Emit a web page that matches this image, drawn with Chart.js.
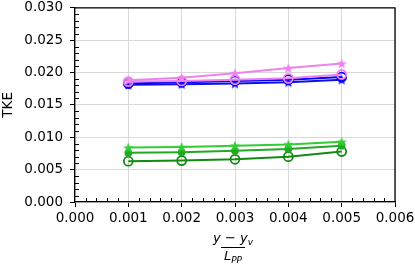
<!DOCTYPE html>
<html>
<head>
<meta charset="utf-8">
<script src="https://cdn.jsdelivr.net/npm/chart.js@4/dist/chart.umd.min.js"></script>
<style>
  html, body { margin: 0; padding: 0; background: #fff; }
  #wrap { position: relative; width: 415px; height: 267px; }
  #xtitle { position: absolute; left: 193px; top: 231px; width: 80px; text-align: center;
            font-family: "DejaVu Sans", sans-serif; font-size: 13px; color: #000; line-height: 14px; }
  #xtitle .num { display: block; padding-bottom: 2px; }
  #xtitle .den { display: inline-block; border-top: 1.2px solid #000; padding: 1px 3px 0 3px; }
  #xtitle sub { font-size: 9px; vertical-align: -3px; line-height: 0; }
  #xtitle i { font-style: italic; }
</style>
</head>
<body>
<div id="wrap">
  <canvas id="c" width="415" height="267"></canvas>
  <div id="xtitle"><span class="num"><i>y</i> − <i>y</i><sub><i>v</i></sub></span><span class="den"><i>L</i><sub><i>PP</i></sub></span></div>
</div>
<script>
// ---- data ----
const xPositions = [0.001, 0.002, 0.003, 0.004, 0.005];
const violetStar   = [0.0188, 0.0192, 0.0199, 0.0207, 0.0214];
const violetCircle = [0.0186, 0.0187, 0.0189, 0.0191, 0.0197];
const blueCircle   = [0.0183, 0.0185, 0.0187, 0.0189, 0.0193];
const blueStar     = [0.0181, 0.0182, 0.0183, 0.0185, 0.0189];
const limeStar     = [0.0084, 0.0085, 0.0087, 0.0089, 0.0093];
const greenDot     = [0.0076, 0.0077, 0.0079, 0.0082, 0.0087];
const greenCircle  = [0.0063, 0.0064, 0.0066, 0.0070, 0.0078];
const xTickValues = [0, 0.001, 0.002, 0.003, 0.004, 0.005, 0.006];
const yTickValues = [0, 0.005, 0.010, 0.015, 0.020, 0.025, 0.030];
const yTitle = 'TKE';

function pts(vals) { return xPositions.map((x, i) => ({ x: x, y: vals[i] })); }

function makeStar(color, size) {
  const c = document.createElement('canvas');
  c.width = size; c.height = size;
  const g = c.getContext('2d');
  const cx = size / 2, cy = size / 2 + 0.5, R = size / 2 - 0.5, r = R * 0.42;
  g.beginPath();
  for (let i = 0; i < 10; i++) {
    const a = -Math.PI / 2 + i * Math.PI / 5;
    const rad = i % 2 === 0 ? R : r;
    const px = cx + rad * Math.cos(a), py = cy + rad * Math.sin(a);
    if (i === 0) g.moveTo(px, py); else g.lineTo(px, py);
  }
  g.closePath();
  g.fillStyle = color; g.fill();
  return c;
}

const VIOLET = '#ee82ee', BLUE = '#0000ff', DBLUE = '#1010e0', LIME = '#32cd32', MGREEN = '#22a822', DGREEN = '#138a13';

function lineDS(label, vals, color, pointStyle, radius, fill) {
  return {
    label: label, data: pts(vals), borderColor: color, borderWidth: 2,
    pointStyle: pointStyle, pointRadius: radius, pointHoverRadius: radius,
    pointBorderColor: color, pointBackgroundColor: fill ? color : 'rgba(0,0,0,0)',
    pointBorderWidth: 1.8, showLine: true, tension: 0
  };
}

const frameAndMinor = {
  id: 'frameAndMinor',
  beforeDatasetsDraw(chart) {
    const ctx = chart.ctx, xs = chart.scales.x, ys = chart.scales.y;
    ctx.save();
    ctx.strokeStyle = '#000'; ctx.lineWidth = 1;
    for (let i = 1; i < 30; i++) {
      if (i % 5 === 0) continue;
      const px = Math.round(xs.getPixelForValue(i * 0.0002)) + 0.5;
      ctx.beginPath(); ctx.moveTo(px, ys.bottom); ctx.lineTo(px, ys.bottom - 4); ctx.stroke();
      const py = Math.round(ys.getPixelForValue(i * 0.001)) + 0.5;
      ctx.beginPath(); ctx.moveTo(xs.left, py); ctx.lineTo(xs.left + 4, py); ctx.stroke();
    }
    ctx.lineWidth = 1.3;
    ctx.beginPath();
    ctx.moveTo(xs.left, ys.top); ctx.lineTo(xs.right, ys.top); ctx.lineTo(xs.right, ys.bottom);
    ctx.stroke();
    ctx.restore();
  }
};

const font = { family: '"DejaVu Sans", sans-serif', size: 13.5 };

new Chart(document.getElementById('c'), {
  type: 'scatter',
  data: {
    datasets: [
      lineDS('violet star', violetStar, VIOLET, makeStar(VIOLET, 12), 6, true),
      lineDS('violet circle', violetCircle, VIOLET, 'circle', 4.5, false),
      lineDS('blue circle', blueCircle, BLUE, 'circle', 4.5, false),
      lineDS('blue star', blueStar, DBLUE, makeStar(DBLUE, 12), 6, true),
      lineDS('lime star', limeStar, LIME, makeStar(LIME, 12), 6, true),
      lineDS('green dot', greenDot, MGREEN, 'circle', 3, true),
      lineDS('green circle', greenCircle, DGREEN, 'circle', 4.5, false)
    ]
  },
  options: {
    responsive: false, animation: false, devicePixelRatio: 1,
    layout: { padding: { top: 6, right: 20, left: 0, bottom: 0 } },
    plugins: { legend: { display: false }, tooltip: { enabled: false } },
    scales: {
      x: {
        type: 'linear', min: 0, max: 0.006,
        afterBuildTicks(s) { s.ticks = xTickValues.map(v => ({ value: v })); },
        afterFit(s) { s.height = 65; s.paddingLeft = 0; s.paddingRight = 0; },
        ticks: { font: font, color: '#000', padding: 3, maxRotation: 0,
                 callback: v => Number(v).toFixed(3) },
        grid: { color: '#d8d8d8', lineWidth: 1, tickLength: 5, tickColor: '#000', drawTicks: true },
        border: { color: '#000', width: 1.3 }
      },
      y: {
        type: 'linear', min: 0, max: 0.030,
        afterBuildTicks(s) { s.ticks = yTickValues.map(v => ({ value: v })); },
        afterFit(s) { s.width = 75; s.paddingTop = 0; s.paddingBottom = 0; },
        title: { display: true, text: yTitle, font: font, color: '#000', padding: { top: 0, bottom: 0 } },
        ticks: { font: font, color: '#000', padding: 7,
                 callback: v => Number(v).toFixed(3) },
        grid: { color: '#d8d8d8', lineWidth: 1, tickLength: 5, tickColor: '#000', drawTicks: true },
        border: { color: '#000', width: 1.3 }
      }
    }
  },
  plugins: [frameAndMinor]
});
</script>
</body>
</html>
